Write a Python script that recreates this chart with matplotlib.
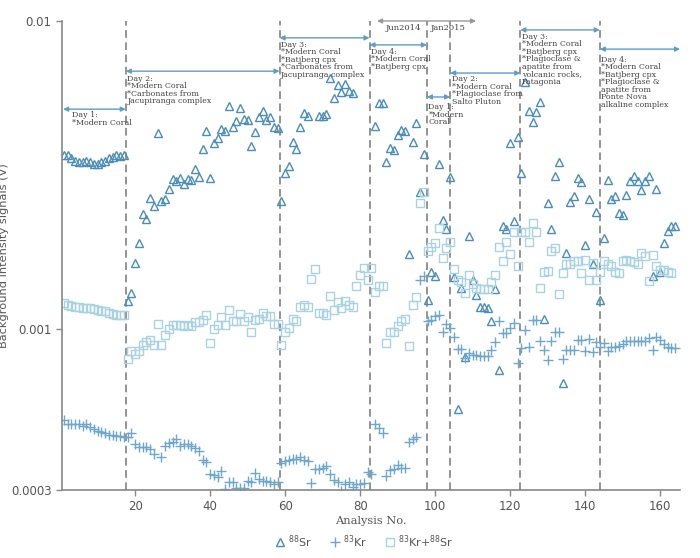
import numpy as np
import matplotlib
matplotlib.use("Agg")
import matplotlib.pyplot as plt

nan = np.nan

# ==== data ====
analysis_no = np.arange(1, 165)

sr88 = [
    0.00368, 0.00368, 0.00358, 0.00350, 0.00348, 0.00348, 0.00350, 0.00348, 0.00342, 0.00342,
    0.00348, 0.00352, 0.00358, 0.00362, 0.00366, 0.00364, 0.00366, 0.00123, 0.00131, 0.00164,
    0.00190, 0.00236, 0.00228, 0.00266, 0.00250, 0.00432, 0.00260, 0.00264, 0.00285, 0.00307,
    0.00302, 0.00308, 0.00296, 0.00307, 0.00304, 0.00331, 0.00311, 0.00385, 0.00439, 0.00310,
    0.00403, 0.00418, 0.00445, 0.00440, 0.00530, 0.00454, 0.00472, 0.00523, 0.00481, 0.00477,
    0.00393, 0.00437, 0.00487, 0.00512, 0.00477, 0.00486, 0.00452, 0.00448, 0.00260, 0.00322,
    0.00338, 0.00405, 0.00383, 0.00454, 0.00504, 0.00492, nan, nan, 0.00492, 0.00492,
    0.00500, 0.00652, 0.00561, 0.00618, 0.00588, 0.00623, 0.00592, 0.00582, nan, nan,
    nan, nan, nan, 0.00456, 0.00541, 0.00541, 0.00348, 0.00386, 0.00381, 0.00425,
    0.00443, 0.00440, 0.00175, 0.00404, 0.00466, 0.00278, 0.00369, 0.00124, 0.00153, 0.00149,
    0.00343, 0.00226, 0.00211, 0.00312, 0.00147, 0.00055, 0.00136, 0.00081, 0.00200, 0.00144,
    0.00129, 0.00118, 0.00118, 0.00117, 0.00106, 0.00135, 0.000736, 0.00216, 0.00211, 0.00403,
    0.00224, 0.00419, 0.00322, 0.00634, 0.00512, 0.00471, 0.00507, 0.00545, 0.00108, 0.00256,
    0.00211, 0.00314, 0.00349, 0.00067, 0.00177, 0.00258, 0.00270, 0.00308, 0.00299, 0.00188,
    0.00265, 0.00162, 0.00240, 0.00124, 0.00197, 0.00305, 0.00264, 0.00270, 0.00238, 0.00235,
    0.00272, 0.00303, 0.00314, 0.00303, 0.00283, 0.00303, 0.00314, 0.00149, 0.00284, 0.00153,
    0.00190, 0.00208, 0.00216, 0.00216,
]

kr83 = [
    0.000505, 0.000490, 0.000490, 0.000490, 0.000490, 0.000485, 0.000490, 0.000482, 0.000475, 0.000468,
    0.000462, 0.000458, 0.000452, 0.000452, 0.000448, 0.000448, 0.000445, 0.000446, 0.000458, 0.000424,
    0.000413, 0.000413, 0.000413, 0.000408, 0.000393, nan, 0.000383, 0.000418, 0.000426, 0.000431,
    0.000438, 0.000417, 0.000424, 0.000422, 0.000417, 0.000410, 0.000403, 0.000376, 0.000371, 0.000337,
    0.000336, 0.000331, 0.000346, 0.000302, 0.000318, 0.000319, 0.000305, 0.000304, 0.000304, 0.000321,
    0.000318, 0.000340, 0.000326, 0.000320, 0.000320, 0.000318, 0.000314, 0.000318, 0.000368, 0.000372,
    0.000375, 0.000377, 0.000379, 0.000385, 0.000375, 0.000373, 0.000316, 0.000351, 0.000351, 0.000353,
    0.000360, 0.000337, 0.000324, 0.000319, 0.000298, 0.000314, 0.000319, 0.000306, 0.000314, 0.000314,
    0.000316, 0.000342, 0.000337, 0.000492, 0.000477, 0.000461, 0.000334, 0.000349, 0.000351, 0.000362,
    0.000354, 0.000354, 0.000431, 0.000438, 0.000445, 0.00144, 0.00149, 0.00106, 0.00107, 0.00110,
    0.00111, 0.00098, 0.00104, 0.00101, 0.00094, 0.000861, 0.000864, 0.000803, 0.000834, 0.000826,
    0.000820, 0.000818, 0.000818, 0.000818, 0.000855, 0.000910, 0.00106, 0.00097, 0.00097, 0.00101,
    0.001045, 0.000776, 0.000865, 0.000993, 0.000873, 0.00107, 0.00107, 0.000914, 0.000855, 0.000793,
    0.000914, 0.00098, 0.00098, 0.000798, 0.000855, 0.000855, 0.000855, 0.000921, 0.000921, 0.000850,
    0.000925, 0.000842, 0.000910, 0.000873, 0.000901, 0.000850, 0.000873, 0.000873, 0.000878, 0.000891,
    0.000916, 0.000916, 0.000916, 0.000916, 0.000916, 0.000916, 0.000934, 0.000855, 0.000945, 0.000921,
    0.000896, 0.000873, 0.000870, 0.000870,
]

kr_sr = [
    0.00121, 0.00120, 0.00119, 0.00118, 0.00118, 0.00117, 0.00117, 0.00117, 0.00116, 0.00115,
    0.00114, 0.00114, 0.00113, 0.00112, 0.00111, 0.00111, 0.00111, 0.000796, 0.00085, 0.00083,
    0.00085, 0.000886, 0.000906, 0.00092, 0.00089, 0.00104, 0.00089, 0.000956, 0.00100, 0.00103,
    0.00103, 0.00103, 0.00102, 0.00103, 0.00102, 0.00105, 0.00105, 0.00107, 0.00111, 0.00090,
    0.00100, 0.00103, 0.00109, 0.00103, 0.00115, 0.00106, 0.00106, 0.00112, 0.00106, 0.00109,
    0.00098, 0.00107, 0.00108, 0.00113, 0.00110, 0.00110, 0.00104, 0.00104, 0.00089, 0.00098,
    0.00101, 0.00108, 0.00106, 0.00118, 0.00120, 0.00118, 0.00145, 0.00156, 0.00113, 0.00113,
    0.00111, 0.00128, 0.00115, 0.00122, 0.00117, 0.00123, 0.00120, 0.00118, 0.00138, 0.00150,
    0.00158, 0.00144, 0.00158, 0.00132, 0.00138, 0.00138, 0.000903, 0.00098, 0.00098, 0.00102,
    0.00106, 0.00108, 0.00088, 0.00120, 0.00127, 0.00257, 0.00279, 0.00179, 0.00184, 0.00190,
    0.00213, 0.00170, 0.00183, 0.00192, 0.00156, 0.00144, 0.00142, 0.00131, 0.00150, 0.00140,
    0.00136, 0.00135, 0.00135, 0.00135, 0.00142, 0.00150, 0.00185, 0.00166, 0.00192, 0.00175,
    0.00207, 0.00160, 0.00207, 0.00207, 0.00191, 0.00220, 0.00207, 0.00136, 0.00153, 0.00154,
    0.00179, 0.00183, 0.00130, 0.00152, 0.00162, 0.00162, 0.00166, 0.00166, 0.00152, 0.00168,
    0.00144, 0.00164, 0.00144, 0.00153, 0.00166, 0.00163, 0.00160, 0.00153, 0.00152, 0.00166,
    0.00168, 0.00166, 0.00165, 0.00162, 0.00177, 0.00172, 0.00143, 0.00174, 0.00160, 0.00155,
    0.00155, 0.00153, 0.00152, nan,
]

# session boundaries (analysis no.)
day_bounds = [0.8, 17.5, 58.5, 82.5, 97.8, 104.0, 122.7, 143.9, 165.3]
day_labels = [
    "Day 1:\n*Modern Coral",
    "Day 2:\n*Modern Coral\n*Carbonates from\nJacupiranga complex",
    "Day 3:\n*Modern Coral\n*Batjberg cpx\n*Carbonates from\nJacupiranga complex",
    "Day 4:\n*Modern Coral\n*Batjberg cpx",
    "Day 1:\n*Modern\nCoral",
    "Day 2:\n*Modern Coral\n*Plagioclase from\nSalto Pluton",
    "Day 3:\n*Modern Coral\n*Batjberg cpx\n*Plagioclase &\napatite from\nvolcanic rocks,\nPatagonia",
    "Day 4:\n*Modern Coral\n*Batjberg cpx\n*Plagioclase &\napatite from\nPonte Nova\nalkaline complex",
]
# arrow height / text top (axes fraction) for each day
arrow_y = [0.812, 0.893, 0.964, 0.949, 0.838, 0.889, 0.981, 0.940]
text_y = [0.808, 0.885, 0.958, 0.943, 0.825, 0.884, 0.975, 0.926]

campaigns = ["Jun2014", "Jan2015"]
campaign_x = [91.5, 103.5]

# ==== plot ====
c_sr = "#4a8db8"
c_kr = "#6ea7cb"
c_krsr = "#a9d2e2"
c_arrow = "#5f9dc5"
c_txt = "#555555"

fig = plt.figure(figsize=(7, 5.58), dpi=100)
ax = fig.add_axes([0.0886, 0.1219, 0.8829, 0.8405])

h1, = ax.plot(analysis_no, sr88, ls="none", marker="^", ms=6.3, mfc="none",
              mec=c_sr, mew=1.0, label=r"$^{88}$Sr")
h2, = ax.plot(analysis_no, kr83, ls="none", marker="+", ms=7.5,
              mec=c_kr, mew=1.0, label=r"$^{83}$Kr")
h3, = ax.plot(analysis_no, kr_sr, ls="none", marker="s", ms=5.5, mfc="none",
              mec=c_krsr, mew=1.0, label=r"$^{83}$Kr+$^{88}$Sr")

ax.set_yscale("log")
ax.set_ylim(0.0003, 0.01)
ax.set_xlim(0.5, 165.3)

for xb in day_bounds[1:-1]:
    ax.axvline(xb, color="#777777", ls=(0, (5, 3)), lw=1.1, zorder=0)

trans = ax.get_xaxis_transform()
for i, lab in enumerate(day_labels):
    x0, x1 = day_bounds[i], day_bounds[i + 1]
    ax.annotate("", xy=(x0, arrow_y[i]), xytext=(x1, arrow_y[i]), xycoords=trans,
                textcoords=trans, annotation_clip=False,
                arrowprops=dict(arrowstyle="<|-|>", color=c_arrow, lw=1.0,
                                mutation_scale=7, shrinkA=0, shrinkB=0))
    tx = x0 + 2.4 if i == 0 else x0 + 0.4
    ax.text(tx, text_y[i], lab, transform=trans, ha="left", va="top",
            fontsize=5.7, family="DejaVu Serif", color="#444444", linespacing=0.92)

# Jun2014 / Jan2015 campaign arrow
ax.annotate("", xy=(84.5, 1.0), xytext=(110.9, 1.0), xycoords=trans, textcoords=trans,
            annotation_clip=False,
            arrowprops=dict(arrowstyle="<|-|>", color="#999999", lw=1.0,
                            mutation_scale=7, shrinkA=0, shrinkB=0))
for cx, ct in zip(campaign_x, campaigns):
    ax.text(cx, 0.984, ct, transform=trans, ha="center", va="center",
            fontsize=6.0, family="DejaVu Serif", color="#444444")

ax.set_yticks([0.0003, 0.001, 0.01])
ax.set_yticklabels(["0.0003", "0.001", "0.01"])
ax.yaxis.set_minor_locator(matplotlib.ticker.NullLocator())
ax.set_xticks([20, 40, 60, 80, 100, 120, 140, 160])
ax.tick_params(axis="both", colors="#888888", labelcolor=c_txt, labelsize=8.5,
               length=4, width=1.0)

for s in ["top", "right"]:
    ax.spines[s].set_visible(False)
for s in ["left", "bottom"]:
    ax.spines[s].set_color("#888888")
    ax.spines[s].set_linewidth(1.2)

ax.set_xlabel("Analysis No.", fontsize=8.2, family="DejaVu Serif", color=c_txt, labelpad=2)
ax.set_ylabel("Background intensity signals (V)", fontsize=8.2, color=c_txt)
ax.yaxis.set_label_coords(-0.085, 0.5)

fig.legend(handles=[h1, h2, h3], loc="center", bbox_to_anchor=(0.52, 0.030), ncol=3,
           frameon=False, fontsize=8, handlelength=1.0, handletextpad=0.2,
           columnspacing=1.6, labelcolor=c_txt)

fig.savefig("out.png", dpi=100)
